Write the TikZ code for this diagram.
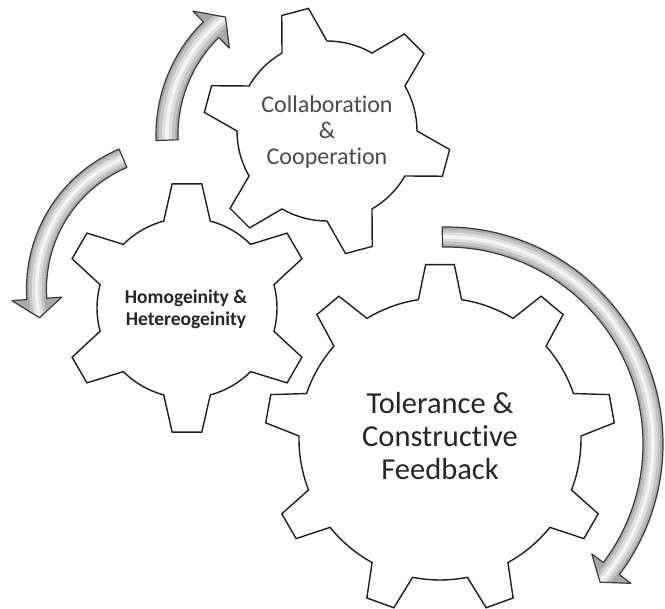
\documentclass[tikz,border=0pt]{standalone}
\usepackage{fontspec}
\setmainfont{Carlito}[Ligatures=NoCommon]
\definecolor{gearink}{HTML}{1E1E1E}
\definecolor{arrowink}{HTML}{3A3A3A}
\definecolor{arrowgray}{HTML}{A9A9A9}
\definecolor{arrowmid}{HTML}{C4C4C4}
\definecolor{arrowlight}{HTML}{DEDEDE}
\definecolor{arrowglow}{HTML}{F3F3F3}
\definecolor{softtext}{HTML}{4A4A4A}
\definecolor{darktext}{HTML}{262626}

\tikzset{
  gearline/.style={draw=gearink, line width=1.4pt, fill=white, line join=miter},
  arrowline/.style={draw=arrowink, line width=1.2pt, line join=round},
  gearlabel/.style={align=center, inner sep=0pt},
}

% Gear outline: #1,#2 centre; #3 teeth; #4 angle of first tooth;
% #5 tip radius; #6 root radius; #7 half angle at root; #8 half angle at tip
\newcommand\drawgear[8]{%
  \pgfmathsetmacro\gearstep{360/#3}%
  \begin{scope}[shift={(#1,#2)}]
    \draw[gearline] (#4-#7:#6)
      \foreach \k in {1,...,#3}{%
        -- ({#4+(\k-1)*\gearstep-#8}:#5)
        -- ({#4+(\k-1)*\gearstep+#8}:#5)
        -- ({#4+(\k-1)*\gearstep+#7}:#6)
        arc[start angle={#4+(\k-1)*\gearstep+#7}, end angle={#4+\k*\gearstep-#7}, radius=#6]
      } -- cycle;
  \end{scope}}

% Curved block arrow on a circle: #1,#2 centre; #3 mid radius; #4 half width;
% #5 tail angle; #6 angle of the head base; #7 tip angle; #8 half width of the head
\newcommand\ringarrow[8]{%
  \def\arrowoutline{(#5:#3+#4) arc[start angle=#5, end angle=#6, radius=#3+#4]
      -- (#6:#3+#8) -- (#7:#3) -- (#6:#3-#8) -- (#6:#3-#4)
      arc[start angle=#6, end angle=#5, radius=#3-#4] -- cycle}%
  \pgfmathsetmacro\bandA{1.5*#4}%
  \pgfmathsetmacro\bandB{0.9*#4}%
  \pgfmathsetmacro\bandC{0.35*#4}%
  \begin{scope}[shift={(#1,#2)}]
    \fill[arrowgray] \arrowoutline;
    \begin{scope}
      \clip \arrowoutline;
      \draw[arrowmid, line width=\bandA pt] (#5:#3) arc[start angle=#5, end angle=#7, radius=#3];
      \draw[arrowlight, line width=\bandB pt] (#5:#3) arc[start angle=#5, end angle=#7, radius=#3];
      \draw[arrowglow, line width=\bandC pt] (#5:#3) arc[start angle=#5, end angle=#7, radius=#3];
    \end{scope}
    \draw[arrowline] \arrowoutline;
  \end{scope}}

\begin{document}
\begin{tikzpicture}[x=1pt, y=1pt]
  \useasboundingbox (0,0) rectangle (665,609);

  % the three gears
  \drawgear{327}{478}{6}{45}{124}{90}{15}{6.4}
  \drawgear{187}{301}{6}{90}{125}{90}{15}{6.8}
  \drawgear{440}{170}{9}{90}{175}{141}{8.8}{4.7}

  % the three curved arrows
  \ringarrow{315}{474}{148}{11}{182}{134.6}{127.2}{26}
  \ringarrow{178.5}{320}{142}{10}{113}{184}{191.7}{25}
  \ringarrow{446}{165}{207}{10}{91}{-37}{-41.9}{24.5}

  % gear labels
  \node[gearlabel, text=softtext, font=\fontsize{24}{26}\selectfont]
    (collab) at (327,477) {Collaboration\\\&\\Cooperation};
  \node[gearlabel, text=darktext, font=\bfseries\fontsize{19.5}{22}\selectfont]
    (homo) at (186,300) {Homogeinity \&\\Hetereogeinity};
  \node[gearlabel, text=darktext, font=\fontsize{30.5}{33}\selectfont]
    (toler) at (440,173) {Tolerance \&\\Constructive\\Feedback};
\end{tikzpicture}
\end{document}
